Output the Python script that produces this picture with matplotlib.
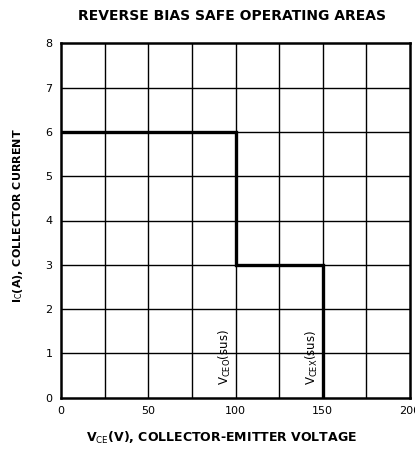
import matplotlib.pyplot as plt

# safe operating area boundary
vce = [0, 100, 100, 150, 150]
ic = [6, 6, 3, 3, 0]

x_ticks = [0, 50, 100, 150, 200]
y_ticks = [0, 1, 2, 3, 4, 5, 6, 7, 8]
x_grid = [25, 50, 75, 100, 125, 150, 175]
y_grid = [1, 2, 3, 4, 5, 6, 7]

plt.rcParams["font.family"] = ["DejaVu Sans"]

fig = plt.figure(figsize=(4.15, 4.5), dpi=100)
ax = fig.add_axes([0.147, 0.116, 0.841, 0.788])

for xv in x_grid:
    ax.axvline(xv, color="black", lw=1.0, zorder=1)
for yv in y_grid:
    ax.axhline(yv, color="black", lw=1.0, zorder=1)

ax.plot(vce, ic, color="black", lw=2.4, zorder=3, solid_joinstyle="miter")

ax.set_xlim(0, 200)
ax.set_ylim(0, 8)
ax.set_xticks(x_ticks)
ax.set_yticks(y_ticks)
ax.tick_params(length=0, labelsize=8, pad=6)
for s in ax.spines.values():
    s.set_linewidth(1.8)

ax.text(98.5, 0.3, r"V$_{\rm CEO}$(sus)", rotation=90, ha="right", va="bottom", fontsize=8.5)
ax.text(148.5, 0.3, r"V$_{\rm CEX}$(sus)", rotation=90, ha="right", va="bottom", fontsize=8.5)

fig.text(0.56, 0.965, "REVERSE BIAS SAFE OPERATING AREAS", ha="center", va="center",
         fontsize=10, fontweight="bold")
fig.text(0.533, 0.027, r"V$_{\rm CE}$(V), COLLECTOR-EMITTER VOLTAGE", ha="center", va="center",
         fontsize=9, fontweight="bold")
fig.text(0.043, 0.52, r"I$_{\rm C}$(A), COLLECTOR CURRENT", ha="center", va="center",
         rotation=90, fontsize=8, fontweight="bold")

fig.savefig("out.png", dpi=100)
